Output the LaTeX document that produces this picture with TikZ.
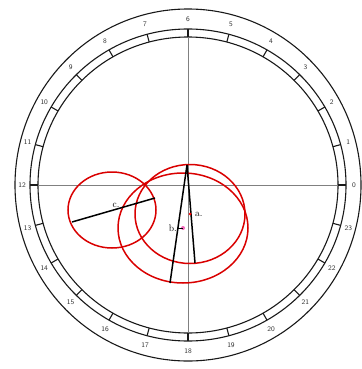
\documentclass[tikz,border=0pt]{standalone}
\usetikzlibrary{calc,positioning}
\begin{document}
\begin{tikzpicture}[x=1pt,y=-1pt,
    ring/.style={line width=1.1pt, black!90},
    axis/.style={line width=0.9pt, black!50},
    orbit/.style={line width=1.5pt, red!85!black},
    diam/.style={line width=1.5pt, black},
    hour/.style={font=\sffamily\fontsize{7}{8}\selectfont, inner sep=0pt, black!80},
    tag/.style={font=\fontsize{9.5}{10}\selectfont, inner sep=0pt}]
  \useasboundingbox (0,0) rectangle (361,369);

  % Centre of the dial
  \coordinate (o) at (188,185);

  % Outer rings
  \draw[ring] (o) ellipse [x radius=173pt, y radius=176pt];
  \draw[ring] (o) ellipse [x radius=158pt, y radius=156pt];
  \draw[ring] (o) ellipse [x radius=150pt, y radius=148pt];

  % Axes
  \coordinate (w) at (38,185);
  \coordinate (e) at (338,185);
  \coordinate (n) at (188,37);
  \coordinate (s) at (188,333);
  \draw[axis] (w) -- (e);
  \draw[axis] (n) -- (s);

  % Hour ticks and numbers
  \foreach \h in {0,...,23} {
    \draw[ring] ($(o)+(-\h*15:150 and 148)$) -- ($(o)+(-\h*15:158 and 156)$);
    \node[hour] (h\h) at ($(o)+(-\h*15:166 and 166)$) {\h};
  }

  % Circles a, b and c
  \coordinate (a) at (190,214);
  \coordinate (b) at (183,228);
  \coordinate (c) at (112,210);
  \draw[orbit] (a) ellipse [x radius=55pt, y radius=49.5pt];
  \draw[orbit] (b) ellipse [x radius=65pt, y radius=55pt];
  \draw[orbit] (c) ellipse [x radius=44pt, y radius=38pt];

  % Diameters
  \coordinate (apex) at (187,165);
  \coordinate (aend) at (195,263);
  \coordinate (bend) at (170,283);
  \coordinate (c1) at (72,222);
  \coordinate (c2) at (155,198);
  \draw[diam] (apex) -- (aend);
  \draw[diam] (apex) -- (bend);
  \draw[diam] (c1) -- (c2);

  % Centres and labels
  \fill[red] (a) circle (1.5pt);
  \fill[magenta!60] (b) circle (2pt);
  \node[tag, right=5pt of a] (alab) {a.};
  \node[tag, left=6pt of b] (blab) {b.};
  \draw[line width=0.5pt] (blab.east) -- (b);
  \node[tag] (clab) at (116,205) {c.};
\end{tikzpicture}
\end{document}
